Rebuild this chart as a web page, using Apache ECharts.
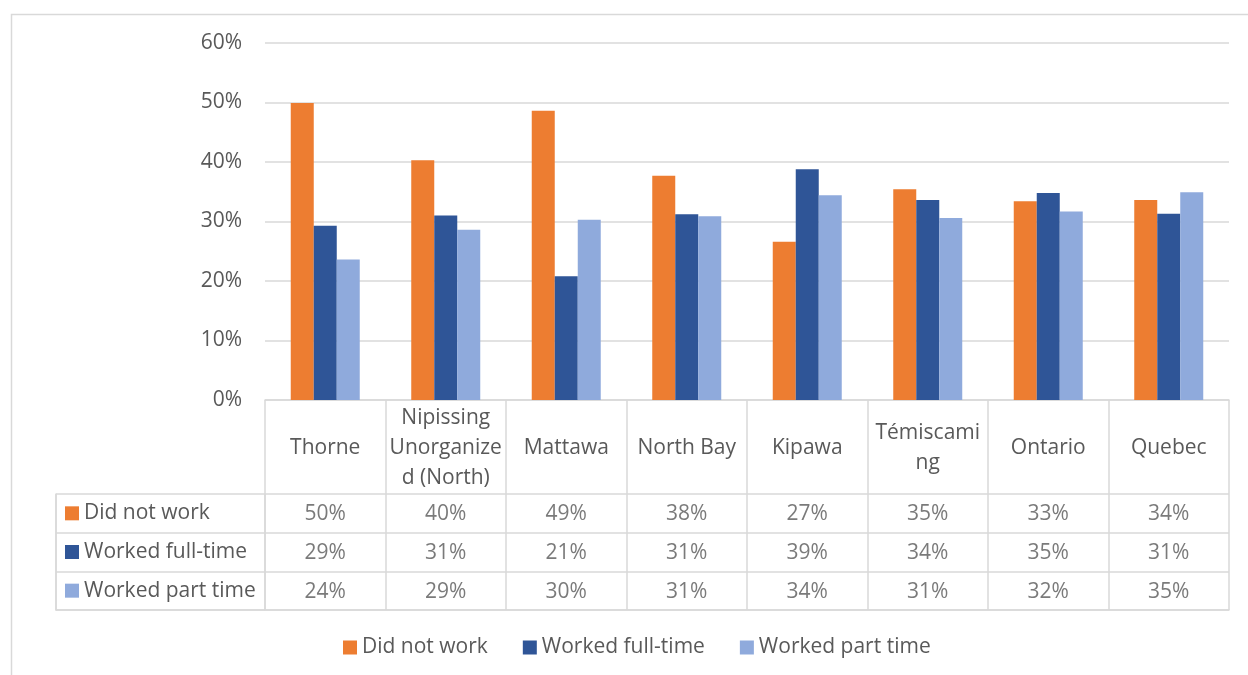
<!DOCTYPE html>
<html>
<head>
<meta charset="utf-8">
<script src="https://cdn.jsdelivr.net/npm/echarts@6/dist/echarts.min.js"></script>
<style>
  html, body { margin: 0; padding: 0; background: #ffffff; }
  #chart { width: 1248px; height: 675px; }
</style>
</head>
<body>
<div id="chart"></div>
<script>
// Employment status by area (share of population, %)
const categories = ['Thorne', 'Nipissing Unorganized (North)', 'Mattawa', 'North Bay', 'Kipawa', 'Témiscaming', 'Ontario', 'Quebec'];
const categoryLabels = ['Thorne', 'Nipissing\nUnorganize\nd (North)', 'Mattawa', 'North Bay', 'Kipawa', 'Témiscami\nng', 'Ontario', 'Quebec'];
const seriesNames = ['Did not work', 'Worked full-time', 'Worked part time'];
const didNotWork = [49.9, 40.3, 48.6, 37.7, 26.6, 35.4, 33.4, 33.6];
const workedFullTime = [29.3, 31.0, 20.8, 31.2, 38.8, 33.6, 34.8, 31.3];
const workedPartTime = [23.6, 28.6, 30.3, 30.9, 34.4, 30.6, 31.7, 34.9];
const yTicks = [0, 10, 20, 30, 40, 50, 60];

const seriesValues = [didNotWork, workedFullTime, workedPartTime];
const colors = ['#ED7D31', '#2F5597', '#8FAADC'];
const textColor = '#595959';
const lineColor = '#d9d9d9';
const font = '"Open Sans", "Noto Sans", sans-serif';
const fontSize = 21;

const chart = echarts.init(document.getElementById('chart'), null, { renderer: 'canvas' });

// cells of the data table: [column, row, value]
const tableCells = [];
seriesValues.forEach((vals, r) => vals.forEach((v, c) => tableCells.push([c, r, v])));

const tableLine = { show: true, interval: 0, lineStyle: { color: lineColor, width: 1.5 } };

const rich = {};
colors.forEach((c, i) => {
  rich['m' + i] = { width: 14, height: 14, backgroundColor: c };
});
rich.t = { fontSize: fontSize, color: textColor, fontFamily: font, padding: [0, 0, 0, 5] };

const option = {
  animation: false,
  textStyle: { fontFamily: font },
  graphic: [{
    type: 'rect',
    silent: true,
    shape: { x: 11.5, y: 14.5, width: 1300, height: 720 },
    style: { fill: 'none', stroke: lineColor, lineWidth: 1.5 }
  }],
  legend: {
    data: seriesNames,
    left: 343,
    top: 637,
    padding: 0,
    icon: 'rect',
    itemWidth: 14,
    itemHeight: 14,
    itemGap: 35,
    textStyle: { fontSize: fontSize, color: textColor, fontFamily: font }
  },
  grid: [
    { left: 265, top: 43, width: 964, height: 357 },   // bars
    { left: 265, top: 494, width: 964, height: 116 },  // table values
    { left: 56, top: 494, width: 209, height: 116 },   // table row headers
    { left: 265, top: 400, width: 964, height: 94 }    // table column headers
  ],
  xAxis: [
    {
      type: 'category', gridIndex: 0, data: categories,
      axisLine: { show: true, lineStyle: { color: lineColor, width: 1.5 } },
      axisTick: { show: false },
      axisLabel: {
        interval: 0, margin: 48, verticalAlign: 'middle', lineHeight: 30,
        fontSize: fontSize, color: textColor, fontFamily: font,
        formatter: (v, i) => categoryLabels[i]
      }
    },
    {
      type: 'category', gridIndex: 1, data: categories,
      axisLine: { show: true, lineStyle: { color: lineColor, width: 1.5 } },
      axisTick: { show: false }, axisLabel: { show: false },
      splitLine: tableLine
    },
    {
      type: 'category', gridIndex: 2, data: [''],
      axisLine: { show: true, lineStyle: { color: lineColor, width: 1.5 } },
      axisTick: { show: false }, axisLabel: { show: false },
      splitLine: tableLine
    },
    {
      type: 'category', gridIndex: 3, data: categories,
      axisLine: { show: false },
      axisTick: { show: false }, axisLabel: { show: false },
      splitLine: tableLine
    }
  ],
  yAxis: [
    {
      type: 'value', gridIndex: 0, min: 0, max: 60, interval: 10,
      axisLine: { show: false }, axisTick: { show: false },
      axisLabel: {
        margin: 23, fontSize: fontSize, color: textColor, fontFamily: font,
        formatter: (v) => (yTicks.indexOf(v) >= 0 ? v + '%' : '')
      },
      splitLine: { show: true, lineStyle: { color: lineColor, width: 1.5 } }
    },
    {
      type: 'category', gridIndex: 1, data: seriesNames, inverse: true,
      axisLine: { show: false }, axisTick: { show: false }, axisLabel: { show: false },
      splitLine: tableLine
    },
    {
      type: 'category', gridIndex: 2, data: seriesNames, inverse: true,
      axisLine: { show: true, lineStyle: { color: lineColor, width: 1.5 } },
      axisTick: { show: false },
      axisLabel: {
        inside: true, margin: 9, align: 'left', interval: 0,
        formatter: (v, i) => '{m' + i + '|}{t|' + v + '}',
        rich: rich
      },
      splitLine: tableLine
    },
    { type: 'value', gridIndex: 3, show: false }
  ],
  series: seriesNames.map((name, i) => ({
    name: name,
    type: 'bar',
    xAxisIndex: 0,
    yAxisIndex: 0,
    data: seriesValues[i],
    barWidth: 23,
    barGap: '0%',
    itemStyle: { color: colors[i] }
  })).concat([{
    name: 'table',
    type: 'scatter',
    xAxisIndex: 1,
    yAxisIndex: 1,
    symbolSize: 0,
    data: tableCells,
    label: {
      show: true, position: 'inside', offset: [0, 1],
      fontSize: fontSize, color: textColor, fontFamily: font,
      formatter: (p) => Math.round(p.value[2]) + '%'
    }
  }])
};

chart.setOption(option);
</script>
</body>
</html>
